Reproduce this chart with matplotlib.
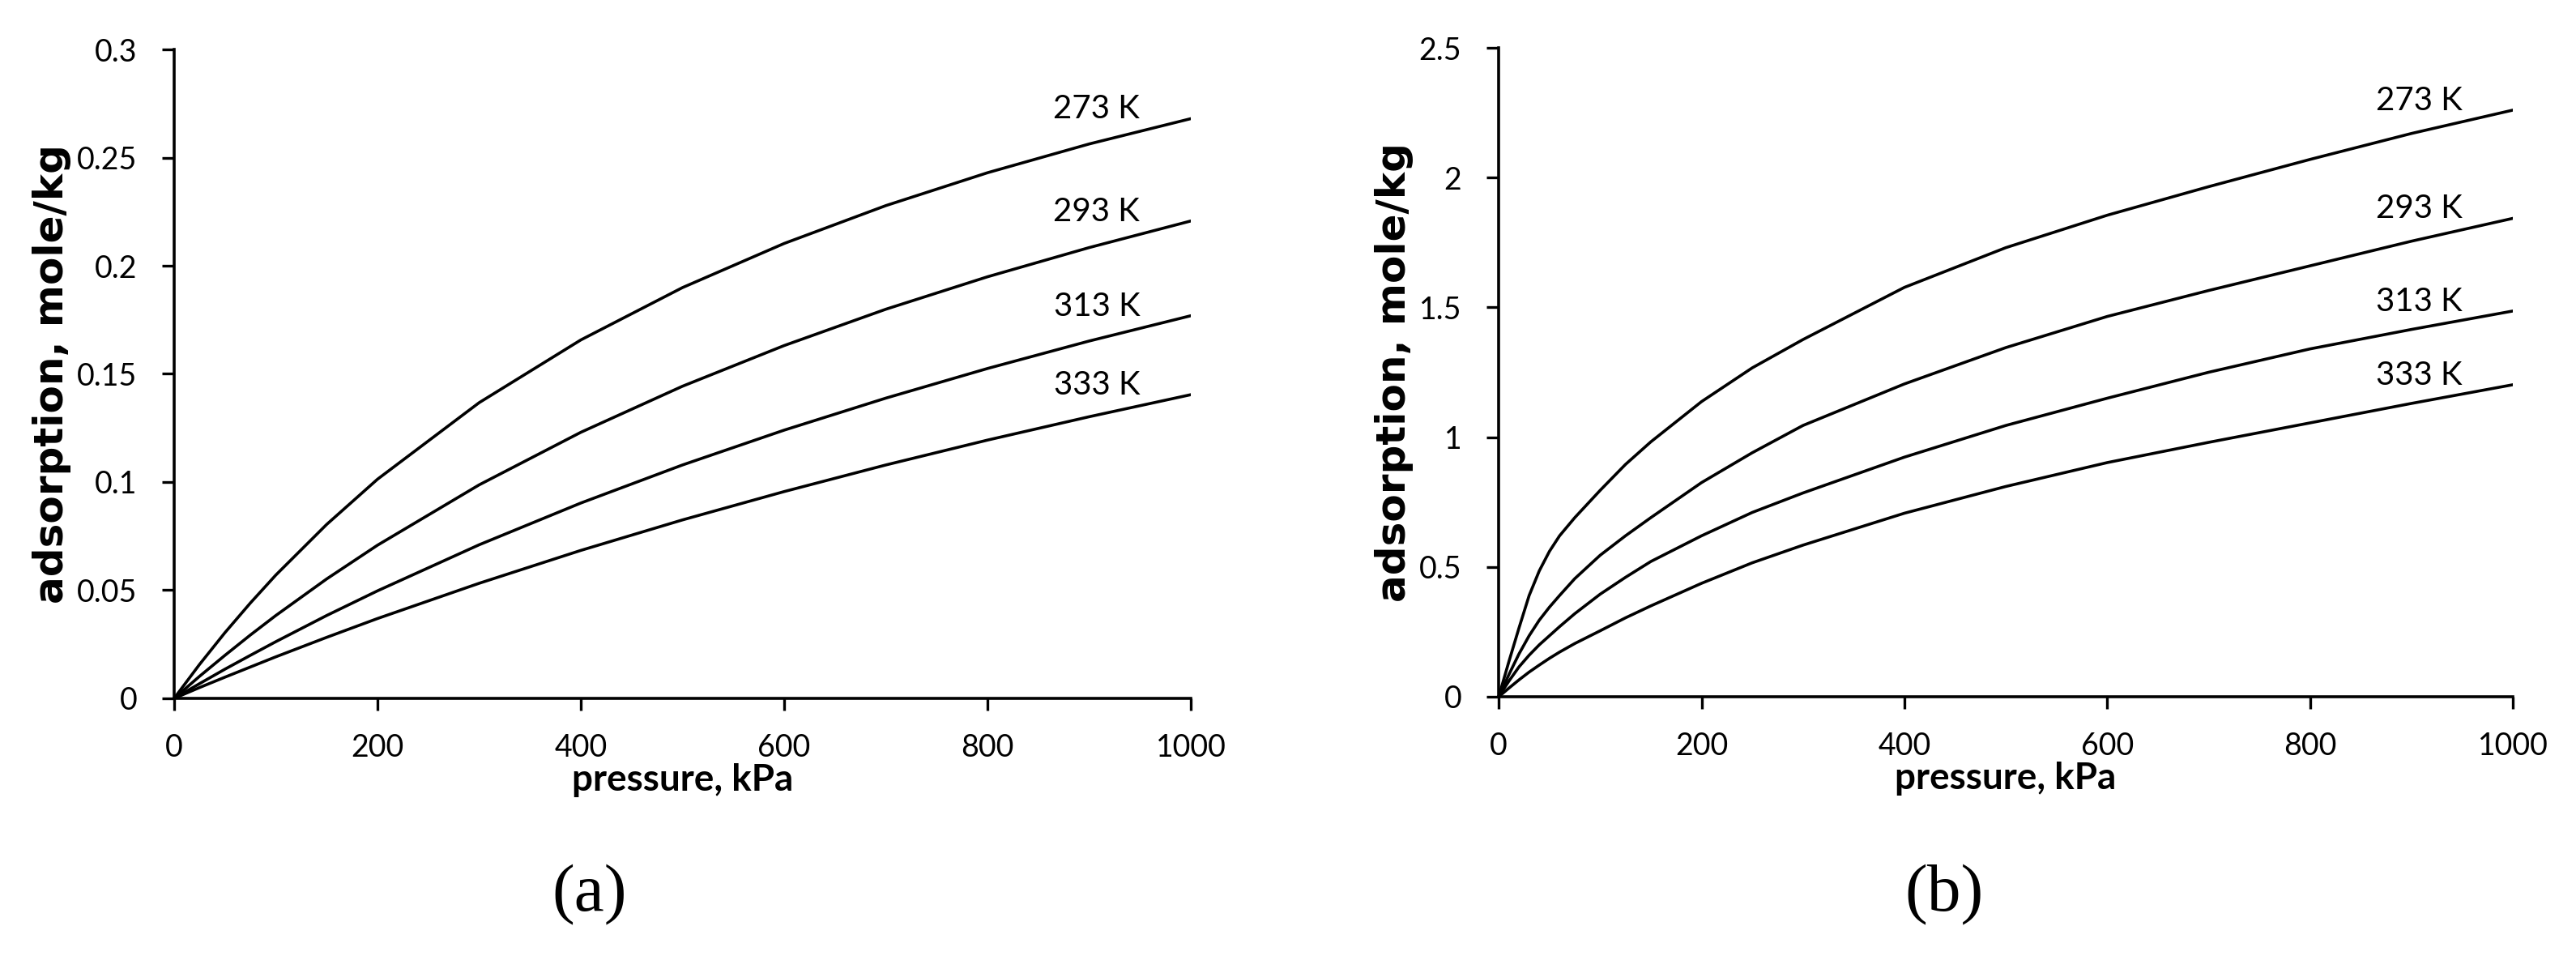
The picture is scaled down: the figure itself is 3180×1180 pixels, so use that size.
import matplotlib
matplotlib.use("Agg")
import matplotlib.pyplot as plt

# pressure grid (kPa) and adsorption (mole/kg)
p_a = [0, 25, 50, 75, 100, 150, 200, 300, 400, 500, 600, 700, 800, 900, 1000]
q273_a = [0, 0.0157, 0.0304, 0.0441, 0.0570, 0.0804, 0.1013, 0.1367, 0.1657, 0.1899, 0.2103, 0.2278, 0.2430, 0.2563, 0.2680]
q293_a = [0, 0.0102, 0.0199, 0.0293, 0.0383, 0.0552, 0.0708, 0.0987, 0.1230, 0.1443, 0.1631, 0.1799, 0.1949, 0.2084, 0.2207]
q313_a = [0, 0.0068, 0.0135, 0.0199, 0.0262, 0.0383, 0.0497, 0.0710, 0.0903, 0.1079, 0.1240, 0.1388, 0.1525, 0.1652, 0.1769]
q333_a = [0, 0.0050, 0.0098, 0.0145, 0.0192, 0.0282, 0.0369, 0.0532, 0.0684, 0.0825, 0.0956, 0.1079, 0.1194, 0.1302, 0.1404]

p_b = [0, 10, 20, 30, 40, 50, 60, 75, 100, 125, 150, 200, 250, 300, 400, 500, 600, 700, 800, 900, 1000]
q273_b = [0, 0.135, 0.265, 0.39, 0.485, 0.56, 0.62, 0.69, 0.795, 0.895, 0.982, 1.137, 1.267, 1.376, 1.577, 1.73, 1.855, 1.965, 2.07, 2.17, 2.26]
q293_b = [0, 0.085, 0.165, 0.235, 0.295, 0.345, 0.39, 0.455, 0.545, 0.62, 0.69, 0.825, 0.94, 1.045, 1.205, 1.345, 1.465, 1.565, 1.66, 1.755, 1.843]
q313_b = [0, 0.06, 0.115, 0.16, 0.2, 0.235, 0.27, 0.32, 0.395, 0.46, 0.521, 0.62, 0.71, 0.785, 0.923, 1.045, 1.15, 1.25, 1.34, 1.415, 1.486]
q333_b = [0, 0.033, 0.065, 0.095, 0.122, 0.148, 0.172, 0.205, 0.254, 0.304, 0.35, 0.437, 0.516, 0.584, 0.707, 0.81, 0.902, 0.98, 1.055, 1.13, 1.202]

temps = ["273 K", "293 K", "313 K", "333 K"]

xticks = [0, 200, 400, 600, 800, 1000]
yticks_a = [0, 0.05, 0.1, 0.15, 0.2, 0.25, 0.3]
ylabels_a = ["0", "0.05", "0.1", "0.15", "0.2", "0.25", "0.3"]
yticks_b = [0, 0.5, 1, 1.5, 2, 2.5]
ylabels_b = ["0", "0.5", "1", "1.5", "2", "2.5"]

TICK_FONT = "Lato"

fig = plt.figure(figsize=(31.8, 11.8), dpi=100)
ax1 = fig.add_axes([0.0676, 0.2695, 0.3947, 0.6788])
ax2 = fig.add_axes([0.5818, 0.2712, 0.3937, 0.6788])


def style_panel(ax, curves, p, yticks, ylabels, ymax):
    for q, name in zip(curves, temps):
        ax.plot(p, q, color="black", lw=2.6, solid_capstyle="round")
        ax.text(950, q[-1], name, ha="right", va="baseline",
                fontsize=29, family=TICK_FONT)
    ax.set_xlim(0, 1000)
    ax.set_ylim(0, ymax)
    ax.set_xticks(xticks)
    ax.set_xticklabels([str(t) for t in xticks])
    ax.set_yticks(yticks)
    ax.set_yticklabels(ylabels)
    for s in ["top", "right"]:
        ax.spines[s].set_visible(False)
    for s in ["left", "bottom"]:
        ax.spines[s].set_linewidth(2.6)
    ax.tick_params(direction="out", length=11, width=2.4, labelsize=27)
    ax.tick_params(axis="y", pad=22)
    ax.tick_params(axis="x", pad=20)
    for lab in ax.get_xticklabels() + ax.get_yticklabels():
        lab.set_family(TICK_FONT)
    ax.set_xlabel("pressure, kPa", fontsize=33, fontweight="bold",
                  family=TICK_FONT, labelpad=1)
    ax.set_ylabel("adsorption, mole/kg", fontsize=36, fontweight="bold",
                  family="DejaVu Sans", labelpad=5)


style_panel(ax1, [q273_a, q293_a, q313_a, q333_a], p_a, yticks_a, ylabels_a, 0.3)
style_panel(ax2, [q273_b, q293_b, q313_b, q333_b], p_b, yticks_b, ylabels_b, 2.5)

fig.text(728 / 3180, 1 - 1105 / 1180, "(a)", ha="center", va="center",
         fontsize=60, family="Liberation Serif")
fig.text(2400 / 3180, 1 - 1105 / 1180, "(b)", ha="center", va="center",
         fontsize=60, family="Liberation Serif")

fig.savefig("out.png", dpi=100, facecolor="white")
